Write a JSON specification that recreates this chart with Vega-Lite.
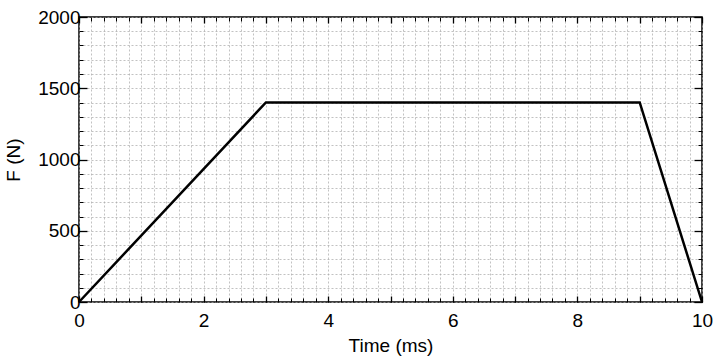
{
  "$schema": "https://vega.github.io/schema/vega-lite/v6.json",
  "width": 623,
  "height": 285,
  "autosize": {"type": "none"},
  "padding": {"left": 79, "top": 17, "right": 18, "bottom": 58},
  "background": "white",
  "config": {
    "view": {"stroke": "black", "strokeWidth": 1.5},
    "font": "Liberation Sans",
    "axis": {
      "labelFont": "Liberation Sans",
      "titleFont": "Liberation Sans",
      "labelFontSize": 19,
      "titleFontSize": 19,
      "titleFontWeight": "normal",
      "labelColor": "black",
      "titleColor": "black",
      "tickColor": "black",
      "labelFlush": false,
      "labelOverlap": false,
      "format": "d",
      "domain": false
    }
  },
  "data": {"values": [
    {"t": 0, "f": 0},
    {"t": 3, "f": 1400},
    {"t": 9, "f": 1400},
    {"t": 10, "f": 0}
  ]},
  "resolve": {"axis": {"x": "independent", "y": "independent"}},
  "layer": [
    {
      "mark": {"type": "line", "strokeOpacity": 0},
      "encoding": {
        "x": {"field": "t", "type": "quantitative",
          "scale": {"domain": [0, 10], "nice": false, "zero": false},
          "axis": {"orient": "bottom", "title": null, "labels": false, "grid": true, "gridDash": [2, 2], "gridColor": "#a8a8a8", "gridWidth": 0.7, "tickSize": -4, "tickWidth": 1,
            "values": [0,0.2,0.4,0.6,0.8,1,1.2,1.4,1.6,1.8,2,2.2,2.4,2.6,2.8,3,3.2,3.4,3.6,3.8,4,4.2,4.4,4.6,4.8,5,5.2,5.4,5.6,5.8,6,6.2,6.4,6.6,6.8,7,7.2,7.4,7.6,7.8,8,8.2,8.4,8.6,8.8,9,9.2,9.4,9.6,9.8,10]}},
        "y": {"field": "f", "type": "quantitative",
          "scale": {"domain": [0, 2000], "nice": false},
          "axis": {"orient": "left", "title": null, "labels": false, "grid": true, "gridDash": [2, 2], "gridColor": "#a8a8a8", "gridWidth": 0.7, "tickSize": -4, "tickWidth": 1,
            "values": [0,100,200,300,400,500,600,700,800,900,1000,1100,1200,1300,1400,1500,1600,1700,1800,1900,2000]}}
      }
    },
    {
      "mark": {"type": "line", "strokeOpacity": 0},
      "encoding": {
        "x": {"field": "t", "type": "quantitative",
          "axis": {"orient": "top", "title": null, "labels": false, "grid": false, "tickSize": -4, "tickWidth": 1,
            "values": [0,0.2,0.4,0.6,0.8,1,1.2,1.4,1.6,1.8,2,2.2,2.4,2.6,2.8,3,3.2,3.4,3.6,3.8,4,4.2,4.4,4.6,4.8,5,5.2,5.4,5.6,5.8,6,6.2,6.4,6.6,6.8,7,7.2,7.4,7.6,7.8,8,8.2,8.4,8.6,8.8,9,9.2,9.4,9.6,9.8,10]}},
        "y": {"field": "f", "type": "quantitative",
          "axis": {"orient": "right", "title": null, "labels": false, "grid": false, "tickSize": -4, "tickWidth": 1,
            "values": [0,100,200,300,400,500,600,700,800,900,1000,1100,1200,1300,1400,1500,1600,1700,1800,1900,2000]}}
      }
    },
    {
      "mark": {"type": "line", "strokeOpacity": 0},
      "encoding": {
        "x": {"field": "t", "type": "quantitative",
          "axis": {"orient": "top", "title": null, "labels": false, "grid": false, "tickSize": -6, "tickWidth": 1.3,
            "values": [0,1,2,3,4,5,6,7,8,9,10]}},
        "y": {"field": "f", "type": "quantitative",
          "axis": {"orient": "right", "title": null, "labels": false, "grid": false, "tickSize": -8, "tickWidth": 1.3,
            "values": [0,500,1000,1500,2000]}}
      }
    },
    {
      "mark": {"type": "line", "color": "black", "strokeWidth": 2.5},
      "encoding": {
        "x": {"field": "t", "type": "quantitative",
          "axis": {"orient": "bottom", "title": "Time (ms)", "titlePadding": 6, "grid": false, "tickSize": -6, "tickWidth": 1.3, "labelPadding": 15,
            "labelExpr": "datum.value % 2 == 0 ? datum.label : ''",
            "values": [0,1,2,3,4,5,6,7,8,9,10]}},
        "y": {"field": "f", "type": "quantitative",
          "axis": {"orient": "left", "title": "F (N)", "titlePadding": 14, "grid": false, "tickSize": -8, "tickWidth": 1.3, "labelPadding": 7,
            "values": [0,500,1000,1500,2000]}}
      }
    }
  ]
}
